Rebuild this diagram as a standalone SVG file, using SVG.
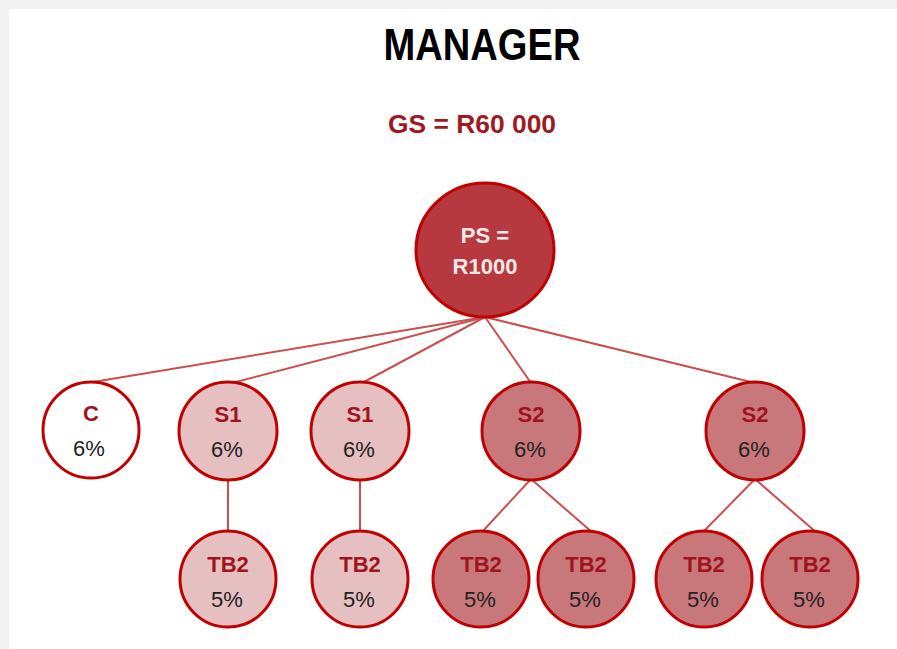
<svg xmlns="http://www.w3.org/2000/svg" width="897" height="649" viewBox="0 0 897 649">
<style>
.n{stroke:#C00000;stroke-width:3}
.c{fill:#FFFFFF}
.s1{fill:#E6BFC1}
.s2{fill:#C8787B}
.lbl{font-family:"Liberation Sans",Arial,sans-serif;font-weight:bold;font-size:22px;fill:#A0141E;text-anchor:middle}
.pct{font-family:"Liberation Sans",Arial,sans-serif;font-size:22px;fill:#222222;text-anchor:middle}
.e{stroke:#C9504F;stroke-width:2;fill:none}
</style>
<rect x="0" y="0" width="897" height="649" fill="#F2F2F2"/>
<rect x="9" y="9" width="888" height="640" fill="#FFFFFF"/>
<text x="482" y="60" font-family="'Liberation Sans',Arial,sans-serif" font-weight="bold" font-size="44" fill="#000000" text-anchor="middle" textLength="197" lengthAdjust="spacingAndGlyphs">MANAGER</text>
<text x="472" y="133" font-family="'Liberation Sans',Arial,sans-serif" font-weight="bold" font-size="25" fill="#9E1A22" text-anchor="middle" textLength="168" lengthAdjust="spacingAndGlyphs">GS = R60 000</text>
<g id="connectors">
<line class="e" x1="485" y1="317" x2="93" y2="382"/>
<line class="e" x1="485" y1="317" x2="232" y2="383"/>
<line class="e" x1="485" y1="317" x2="362" y2="383"/>
<line class="e" x1="485" y1="317" x2="531" y2="383"/>
<line class="e" x1="485" y1="317" x2="755" y2="383"/>
<line class="e" x1="228" y1="480" x2="228" y2="531"/>
<line class="e" x1="360" y1="480" x2="360" y2="531"/>
<line class="e" x1="531" y1="479" x2="482" y2="532"/>
<line class="e" x1="531" y1="479" x2="593" y2="533"/>
<line class="e" x1="755" y1="479" x2="703" y2="532"/>
<line class="e" x1="755" y1="479" x2="817" y2="533"/>
</g>
<g id="ps">
<ellipse cx="485" cy="250" rx="69" ry="67" fill="#B5393E" stroke="#C00000" stroke-width="3"/>
<text x="485" y="243" font-family="'Liberation Sans',Arial,sans-serif" font-weight="bold" font-size="22" fill="#F4E8E8" text-anchor="middle">PS =</text>
<text x="485" y="274" font-family="'Liberation Sans',Arial,sans-serif" font-weight="bold" font-size="22" fill="#F4E8E8" text-anchor="middle">R1000</text>
</g>
<g id="c"><circle class="n c" cx="91" cy="430" r="48"/><text class="lbl" x="91" y="421">C</text><text class="pct" x="89" y="456">6%</text></g>
<g id="s1a"><circle class="n s1" cx="228" cy="431" r="49"/><text class="lbl" x="228" y="422">S1</text><text class="pct" x="227" y="457">6%</text></g>
<g id="s1b"><circle class="n s1" cx="360" cy="431" r="49"/><text class="lbl" x="360" y="422">S1</text><text class="pct" x="359" y="457">6%</text></g>
<g id="s2a"><circle class="n s2" cx="531" cy="431" r="49"/><text class="lbl" x="531" y="422">S2</text><text class="pct" x="530" y="457">6%</text></g>
<g id="s2b"><circle class="n s2" cx="755" cy="431" r="49"/><text class="lbl" x="755" y="422">S2</text><text class="pct" x="754" y="457">6%</text></g>
<g id="tb1"><circle class="n s1" cx="228" cy="579" r="48"/><text class="lbl" x="228" y="572">TB2</text><text class="pct" x="227" y="607">5%</text></g>
<g id="tb2"><circle class="n s1" cx="360" cy="579" r="48"/><text class="lbl" x="360" y="572">TB2</text><text class="pct" x="359" y="607">5%</text></g>
<g id="tb3"><circle class="n s2" cx="481" cy="579" r="48"/><text class="lbl" x="481" y="572">TB2</text><text class="pct" x="480" y="607">5%</text></g>
<g id="tb4"><circle class="n s2" cx="586" cy="579" r="48"/><text class="lbl" x="586" y="572">TB2</text><text class="pct" x="585" y="607">5%</text></g>
<g id="tb5"><circle class="n s2" cx="704" cy="579" r="48"/><text class="lbl" x="704" y="572">TB2</text><text class="pct" x="703" y="607">5%</text></g>
<g id="tb6"><circle class="n s2" cx="810" cy="579" r="48"/><text class="lbl" x="810" y="572">TB2</text><text class="pct" x="809" y="607">5%</text></g>
</svg>
